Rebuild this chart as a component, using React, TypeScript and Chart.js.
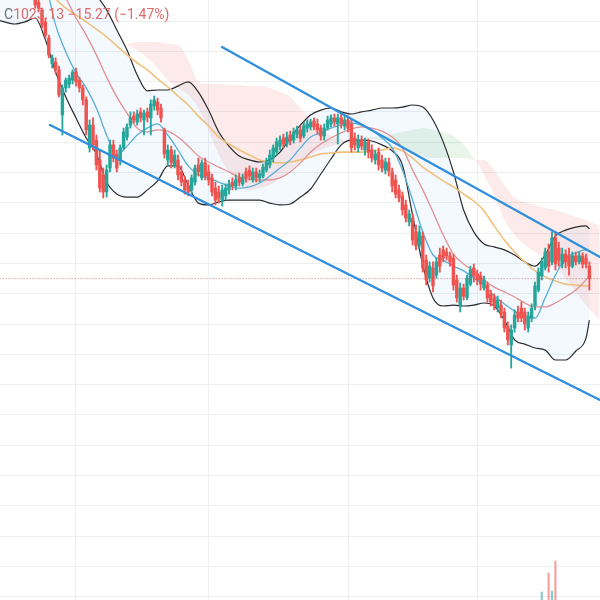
import React, { useEffect, useRef } from "react";
import { Chart, registerables } from "chart.js";
Chart.register(...registerables);

// ---- candles (bar index 0..163) ----
const OPEN = [1117.7,1115.3,1112.7,1108.7,1103.3,1094.7,1095.3,1092.7,1077.7,1086.7,
1088,1089.3,1092,1089.3,1086.7,1082.7,1066.7,1074.3,1069.3,1062.7,
1057.7,1052,1060,1067.7,1064.3,1062.7,1066.7,1070.3,1074.3,1077.3,
1075.3,1078.7,1076,1078.7,1076.7,1080.7,1082,1080,1072.7,1062.7,
1066,1061,1062.7,1058.7,1056,1054.3,1052.7,1055.3,1061,1056.7,
1061.7,1058.7,1056.7,1053.3,1052,1049.3,1050.7,1052.7,1055.3,1054,
1056.7,1054.7,1058.7,1059.3,1056,1058.7,1056.7,1057.3,1059.3,1061,
1063.3,1065.3,1067.3,1070,1068,1071,1069.3,1071.3,1072.7,1070.7,
1073.3,1073.7,1075.7,1074.7,1073.3,1070.7,1073.3,1074.7,1076.7,1074.7,
1076.7,1074,1076,1074.7,1070,1066.7,1069.3,1066,1068.7,1066,
1062.7,1065.3,1062.7,1059.3,1061.7,1058.7,1056,1052.7,1050.7,1047.7,
1042,1043.3,1038.7,1034.3,1037.3,1029.3,1023.3,1026.7,1024.3,1031,
1032.7,1032,1030.7,1030,1022.7,1014.3,1020,1016.7,1021.3,1026.7,
1024.7,1024,1020,1021,1018,1016.7,1013.3,1014.3,1012,1007.3,
1001,1006.7,1012,1013.3,1012,1006.7,1010,1014,1019.3,1024,
1026.7,1032,1028.7,1036.7,1033.3,1028,1031.3,1030.7,1027.3,1030.7,
1028.7,1030.7,1030,1027.3];
const HIGH = [1118.7,1116.7,1113.3,1110,1104.3,1097.7,1096.7,1094,1087.7,1090,
1091,1092.7,1093.3,1090.3,1087.7,1083.7,1076,1076.7,1071,1066,
1060,1061,1069.3,1069.3,1066,1067.7,1073.3,1074.7,1078.7,1078.7,
1079.3,1080,1079.3,1080,1082.7,1084,1083.3,1081.3,1073.3,1067.7,
1067.3,1066,1064.3,1060.7,1057.3,1056,1057.7,1061,1063.3,1062.7,
1063.3,1061,1058,1055.3,1054,1054.3,1054.7,1056,1056.7,1057.7,
1058.3,1058,1060,1060.7,1060,1060,1059.3,1061.3,1063.3,1066,
1067.7,1070,1070.7,1071.3,1072,1072.3,1073.3,1074,1074,1075.3,
1076,1076.3,1076.7,1076.3,1074.3,1074.7,1077.3,1077.7,1078,1078,
1078,1077.3,1077.3,1076,1071.7,1071,1070.7,1070,1069.7,1067.7,
1066,1066.7,1064.3,1063.3,1063.3,1060,1057.7,1054.3,1052,1049.3,
1046,1044.7,1041,1040.7,1038.7,1031,1028.7,1028.7,1030,1033.3,
1034,1033.3,1032,1031.3,1024.3,1021.7,1021.3,1024.3,1027.3,1028,
1026,1025.3,1024,1022,1019.3,1018,1017.3,1016,1013.3,1008.7,
1007.7,1012.7,1014,1015.3,1013.3,1012,1014.7,1022,1026.7,1030,
1033.3,1034.7,1038.7,1038.7,1035.3,1033.3,1032.7,1033.3,1032,1032,
1032,1031.7,1031.3,1028.7];
const LOW = [1113.3,1112,1106.7,1103.3,1096.7,1093.3,1091.3,1083.7,1071,1085.3,
1086.7,1088,1087.3,1085.3,1081,1071,1065.3,1066,1059.3,1052,
1050,1050.3,1058.7,1062,1058.7,1061,1066,1069.3,1073.3,1075,
1074.3,1075.3,1071,1075.3,1071,1079.3,1077.7,1075.3,1063.3,1060.7,
1060,1060,1056,1054,1051.3,1050.7,1051.3,1054.3,1057.3,1056,
1056,1054.3,1050.7,1047.7,1048.3,1047.3,1049.3,1051.3,1052.7,1052.7,
1054,1054,1055.3,1056,1055.3,1055.3,1055.3,1056.7,1058.7,1060,
1062,1064.3,1066,1066.7,1067,1067.7,1068.3,1070,1068.7,1070,
1072,1072.7,1072.7,1071.3,1069.3,1069.3,1072.7,1073.7,1074,1068,
1073.3,1072.7,1072,1065.3,1066,1065.3,1066,1064.3,1063.3,1062,
1061.3,1059.3,1058.7,1058,1057.3,1052,1050,1048.7,1044.3,1042,
1040.7,1034.3,1032.7,1033.3,1025.3,1021,1022,1018.7,1023.3,1025.3,
1028.7,1029.3,1027.3,1019.3,1015.3,1012,1016,1016,1020.7,1022,
1021,1019.3,1019.3,1015.3,1014,1012.7,1012,1010,1005.3,1001,
993.3,1005.3,1008.7,1008.7,1006,1005.3,1008.7,1012.7,1018.7,1022.7,
1026,1025.3,1027.7,1026,1027.3,1026.7,1026.7,1024.3,1026.7,1027.7,
1028,1026.7,1026.7,1019.3];
const CLOSE = [1114.3,1113.3,1107.7,1104.3,1097.7,1096.7,1092.7,1084.3,1086.7,1089.3,
1090,1092,1088.7,1086.7,1082.7,1072.7,1074.3,1067.7,1061,1053.3,
1052,1059.3,1067.7,1063.3,1060,1066.7,1072,1073.7,1076.7,1076,
1078,1076.7,1078.3,1077,1081.3,1082.7,1079.3,1076.7,1064.7,1066,
1061.7,1064.3,1057.7,1055.3,1052.7,1052,1056.7,1060,1058.7,1061.7,
1057.3,1056,1052,1049.3,1050,1052.7,1053.3,1054.7,1054,1056,
1055.3,1057,1056.7,1057.3,1058.7,1056.7,1058,1060.3,1062,1064.3,
1066.7,1068.7,1069.3,1068,1070.3,1069,1072,1072.7,1070,1074,
1074.7,1075.3,1073.7,1072.7,1070.7,1073.3,1076,1076.7,1075.3,1076.7,
1074.7,1076,1073.3,1066.7,1067.7,1069.3,1067.3,1068.7,1065.3,1063.3,
1064.7,1061,1060,1062,1059,1054,1051.3,1050,1046,1043.3,
1044.7,1036,1034,1038.7,1026.7,1022.7,1027.3,1020.7,1028.7,1027.3,
1030,1030.7,1028.7,1021,1016.7,1020,1017.3,1023.3,1026,1024,
1022.7,1021.3,1022.7,1016.7,1015.3,1014,1016,1011.3,1006.7,1002.7,
1006,1011,1010,1010,1008,1010.7,1013.3,1020.7,1025.3,1028.7,
1032,1027.3,1036.7,1028,1029.3,1031.3,1028.7,1027.3,1030.7,1028.7,
1030.7,1028,1028,1023.13];

// ---- volume (only bars that reach into view) ----
const VOL_IDX = [149, 151, 152, 153];
const VOL_VAL = [44.8, 56.2, 45.4, 63.4];

// ---- indicator lines, sampled at bar indices ----
const LINE_IDX = [-11,-6,-3,0,3,6,9,12,15,18,21,24,27,30,33,36,39,42,45,48,51,54,57,60,63,66,69,72,75,78,81,84,87,90,93,96,99,102,105,108,111,114,117,120,123,126,129,132,135,138,141,144,147,150,153,156,159,162,163];
const BB_UPPER = [1182.7,1172.7,1166,1159.3,1152.7,1144.3,1136,1129.3,1122.7,1117.7,1112.7,1106,1099.3,1091,1085.7,1086,1086,1087.3,1088.7,1085.3,1079.3,1072,1067.3,1064,1062.7,1062,1062.7,1065.3,1070,1074.3,1077.7,1079.3,1080,1078.7,1078,1078.7,1079.3,1080,1080,1080.3,1081,1080.3,1076,1068.7,1058.7,1046,1038.7,1034.7,1033.7,1032.7,1031,1028.7,1027.3,1031,1037.3,1039.3,1040.3,1040.7,1039.7];
const BB_LOWER = [1109.3,1108,1108.7,1110,1102.7,1092,1083.7,1076.7,1070,1064.7,1055.3,1051.3,1050.3,1050.3,1052.7,1055.7,1060.7,1060.7,1054.3,1048.3,1047.7,1048.7,1049.3,1049.3,1049.3,1049.3,1048.3,1047.7,1048,1050.3,1053,1058,1063,1067.7,1069.3,1069.3,1069,1067.7,1065.7,1061,1044.3,1027.7,1016.7,1014,1014.3,1014,1014.3,1015,1014,1009.3,1002.7,1001.3,1000,999.3,996,996,999,1003.3,1009.3];
const MA_FAST = [1169.3,1156,1146,1134.3,1122,1107.7,1098.7,1091.7,1086.7,1080,1071,1064.3,1067.3,1071,1073.3,1074.7,1071,1066,1060.7,1057.7,1056.7,1055.3,1054,1053.3,1053.7,1055,1057.3,1060,1062.7,1066.7,1070.3,1071.7,1073.3,1074.3,1075,1074.3,1072.7,1070,1066.7,1059.3,1049.3,1038.7,1031,1029.3,1027.3,1025.7,1023.3,1021,1017.3,1014.7,1012.3,1010,1010,1016.7,1024.3,1030,1031.7,1032.7,1032.3];
const MA_MID = [1161,1149.3,1143.3,1136.7,1130,1123,1116.7,1110,1104.3,1097.7,1090.3,1083.7,1078.3,1073.3,1072,1072.7,1072.3,1070.3,1067.3,1064,1062,1060.3,1058.7,1057,1056.3,1056,1056,1056.7,1058.7,1061.7,1065.3,1068,1070,1071.7,1073,1073.7,1073.3,1072.3,1070.3,1066.7,1059.3,1052.7,1045.3,1037.7,1031.3,1028,1025.7,1022.7,1020.3,1018.7,1017,1015,1013.7,1013.7,1015,1017,1019.3,1022.7,1024.3];
const MA_SLOW = [1131,1126.7,1124.3,1121.7,1119,1116.3,1113.3,1111,1108.7,1106.3,1103.7,1100.7,1097.7,1095,1092.7,1089.7,1087,1084,1081,1077.3,1074,1070.3,1068,1066,1064.3,1062.7,1062,1061.7,1062,1062.7,1063.7,1064.7,1065,1065.3,1065.3,1065.3,1065.7,1066,1066.7,1065.7,1063.3,1060.3,1058,1055.7,1053.7,1051.3,1049,1045.7,1040.7,1036,1032,1028.7,1025.7,1023.7,1022.3,1021.3,1021,1020.7,1020.7];

// ---- cloud spans ----
const CLOUD_IDX = [27,30,33,36,39,42,45,48,51,54,57,60,63,66,69,72,75,78,81,84,87,90,93,96,99,102,105,108,111,114,117,120,123,126,129,132,135,138,141,144,147,150,153,156,159,162,166];
const SPAN_A = [1101,1099.3,1096.7,1093.3,1089.3,1086.7,1084.3,1080,1072.7,1064.3,1058.7,1054.3,1052.7,1053.3,1054.3,1056.7,1059.3,1062,1064.3,1066,1067.3,1068.3,1069,1069.7,1070.3,1070.7,1071.3,1072,1072.7,1073.3,1072.7,1072,1070.7,1067.7,1063.3,1057.7,1051,1042.7,1037.7,1034.3,1032,1030,1027.7,1023.3,1018.7,1014.3,1009.3];
const SPAN_B = [1101.3,1102,1102,1102,1101.3,1101,1096,1088.7,1088,1088,1087.7,1087.7,1087.3,1087.3,1086.7,1085.3,1083.7,1080,1076,1072.7,1070.7,1069.7,1069,1069.3,1069.7,1069.3,1068.7,1067.3,1065.3,1064,1063.3,1063.3,1063.3,1063.3,1062.7,1062.7,1059.3,1054.3,1050,1048.7,1047.7,1046.7,1046,1045,1043.7,1042.7,1040.7];

// ---- trend channel ----
const CH_UP_X = [54.94, 166.12];
const CH_UP_Y = [1100.33, 1030.33];
const CH_LOW_X = [4.35, 166.12];
const CH_LOW_Y = [1074.33, 982.67];

// ---- legend / price line ----
const LAST_PRICE = 1023.13;
const CHANGE = -15.27;
const CHANGE_PCT = -1.47;

// ---- grid ----
const X_MIN = -10.3529;
const X_MAX = 166.1176;
const Y_MIN = 916;
const Y_MAX = 1116;
const X_GRID = [12, 51, 92, 130];
const Y_GRID = [1109,1098.9,1088.8,1078.7,1068.6,1058.5,1048.4,1038.3,1028.2,1018.1,1008,997.9,987.8,977.7,967.6,957.5,947.4,937.3,927.2,917.1];

const UP = "#26a69a";
const DOWN = "#ef5350";
const GRID = "#eceff3";

const fmt = (v: number) => (v < 0 ? "\u2212" : "") + Math.abs(v).toFixed(2);

export default function App() {
  const ref = useRef<HTMLCanvasElement>(null);
  useEffect(() => {
    const idx = OPEN.map((_, i) => i);
    const isUp = (i: number) => CLOSE[i] >= OPEN[i];
    const pts = (xs: number[], ys: number[]) => xs.map((x, k) => ({ x, y: ys[k] }));
    const line = (xs: number[], ys: number[], color: string, width: number, order: number, extra: any = {}) => ({
      type: "line",
      data: pts(xs, ys),
      borderColor: color,
      borderWidth: width,
      pointRadius: 0,
      cubicInterpolationMode: "monotone",
      fill: false,
      order,
      ...extra,
    });
    const chart = new Chart(ref.current as HTMLCanvasElement, {
      type: "bar",
      data: {
        datasets: [
          line(CH_UP_X, CH_UP_Y, "#2f8fdb", 2.4, 0, { borderCapStyle: "round", cubicInterpolationMode: "default" }),
          line(CH_LOW_X, CH_LOW_Y, "#2f8fdb", 2.4, 0, { borderCapStyle: "round", cubicInterpolationMode: "default" }),
          line([X_MIN - 1, X_MAX + 1], [LAST_PRICE, LAST_PRICE], "rgba(190,100,100,0.85)", 1, 1, { borderDash: [1, 2], cubicInterpolationMode: "default" }),
          {
            type: "bar",
            data: idx.map((i) => ({ x: i, y: [OPEN[i], CLOSE[i]] })),
            backgroundColor: idx.map((i) => (isUp(i) ? UP : DOWN)),
            barThickness: 2.8,
            minBarLength: 1,
            grouped: false,
            order: 2,
          },
          {
            type: "bar",
            data: idx.map((i) => ({ x: i, y: [LOW[i], HIGH[i]] })),
            backgroundColor: idx.map((i) => (isUp(i) ? UP : DOWN)),
            barThickness: 1.2,
            grouped: false,
            order: 3,
          },
          {
            type: "bar",
            yAxisID: "yv",
            data: VOL_IDX.map((x, k) => ({ x, y: VOL_VAL[k] })),
            backgroundColor: VOL_IDX.map((i) => (isUp(i) ? "rgba(38,166,154,0.55)" : "rgba(239,83,80,0.55)")),
            barThickness: 1.5,
            grouped: false,
            order: 4,
          },
          line(LINE_IDX, MA_FAST, "#5aaed6", 1.3, 5),
          line(LINE_IDX, MA_MID, "#e39090", 1.3, 6),
          line(LINE_IDX, MA_SLOW, "#f0c07c", 1.6, 7),
          line(LINE_IDX, BB_UPPER, "#2b2b2b", 1.2, 8, { fill: "+1", backgroundColor: "rgba(33,150,243,0.055)" }),
          line(LINE_IDX, BB_LOWER, "#2b2b2b", 1.2, 9),
          line(CLOUD_IDX, SPAN_A, "rgba(0,0,0,0)", 0, 10, {
            fill: { target: "+1", above: "rgba(76,175,80,0.13)", below: "rgba(239,83,80,0.12)" },
          }),
          line(CLOUD_IDX, SPAN_B, "rgba(0,0,0,0)", 0, 11),
        ] as any,
      },
      options: {
        responsive: false,
        animation: false,
        devicePixelRatio: 1,
        events: [],
        layout: { padding: 0 },
        plugins: { legend: { display: false }, tooltip: { enabled: false } },
        scales: {
          x: {
            type: "linear",
            min: X_MIN,
            max: X_MAX,
            offset: false,
            grid: { color: GRID, drawTicks: false, offset: false },
            border: { display: false },
            ticks: { display: false },
            afterBuildTicks: (s: any) => {
              s.ticks = X_GRID.map((v) => ({ value: v }));
            },
          },
          y: {
            type: "linear",
            min: Y_MIN,
            max: Y_MAX,
            grid: { color: GRID, drawTicks: false },
            border: { display: false },
            ticks: { display: false },
            afterBuildTicks: (s: any) => {
              s.ticks = Y_GRID.map((v) => ({ value: v }));
            },
          },
          yv: { type: "linear", display: false, min: 40, max: 400 },
        },
      } as any,
    });
    return () => chart.destroy();
  }, []);

  return (
    <div style={{ position: "fixed", left: 0, top: 0, width: 600, height: 600, background: "#fff", overflow: "hidden" }}>
      <canvas ref={ref} width={600} height={600} style={{ display: "block", width: 600, height: 600 }} />
      <div
        style={{
          position: "absolute",
          left: 4,
          top: 7,
          fontFamily: "Roboto, 'Noto Sans', sans-serif",
          fontSize: 14,
          lineHeight: "14px",
          whiteSpace: "nowrap",
        }}
      >
        <span style={{ color: "#6b6f7a" }}>C</span>
        <span style={{ color: "#e06a6a" }}>
          {LAST_PRICE.toFixed(2)} {fmt(CHANGE)} ({fmt(CHANGE_PCT)}%)
        </span>
      </div>
    </div>
  );
}
